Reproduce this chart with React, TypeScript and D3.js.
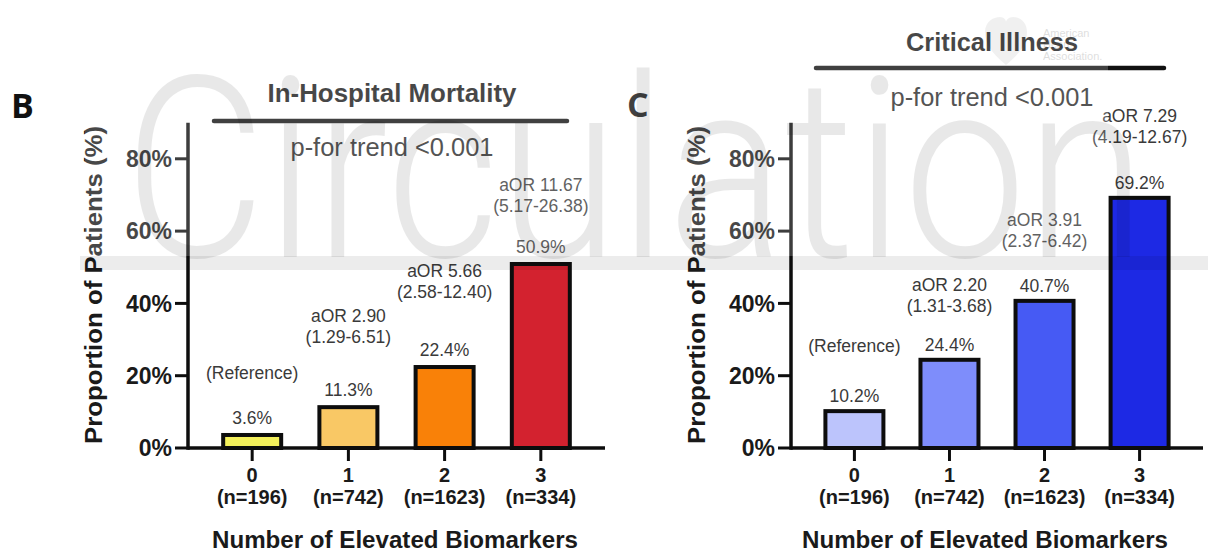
import React from "react";
import * as d3 from "d3";

// ---------- data ----------
const categories = ["0", "1", "2", "3"];
const sampleSizes = ["(n=196)", "(n=742)", "(n=1623)", "(n=334)"];
const yTicks = [0, 20, 40, 60, 80];

const mortalityValues = [3.6, 11.3, 22.4, 50.9];
const mortalityAOR = ["(Reference)", "aOR 2.90", "aOR 5.66", "aOR 11.67"];
const mortalityCI = ["", "(1.29-6.51)", "(2.58-12.40)", "(5.17-26.38)"];
const mortalityColors = ["#F3F05B", "#F9C865", "#F98108", "#D3222F"];

const criticalValues = [10.2, 24.4, 40.7, 69.2];
const criticalAOR = ["(Reference)", "aOR 2.20", "aOR 3.91", "aOR 7.29"];
const criticalCI = ["", "(1.31-3.68)", "(2.37-6.42)", "(4.19-12.67)"];
const criticalColors = ["#BCC4FC", "#7E8DFB", "#465AF4", "#1D29E4"];

const FONT = "'Liberation Sans', Arial, Helvetica, sans-serif";

const W = 1208;
const H = 552;
const BASE = 448;
const yScale = d3.scaleLinear().domain([0, 90]).range([BASE, BASE - 90 * 3.615]);

type PanelProps = {
  letter: string;
  letterX: number;
  letterY: number;
  title: string;
  titleW: number;
  titleY: number;
  centerX: number;
  lineX0: number;
  lineX1: number;
  lineY: number;
  pY: number;
  axisX: number;
  xEnd: number;
  xTitleX: number;
  values: number[];
  aor: string[];
  ci: string[];
  colors: string[];
  ciGaps: number[];
  pctGap: number;
};

function Panel(p: PanelProps) {
  const x = d3.scalePoint<string>().domain(categories).range([p.axisX, p.xEnd]).padding(0.667);
  const barW = 58;
  return (
    <g>
      <text x={p.letterX} y={p.letterY} fontFamily="'Open Sans', 'Noto Sans', sans-serif" fontWeight={700} fontSize={34} fill="#111">
        {p.letter}
      </text>
      <text x={p.centerX} y={p.titleY} textAnchor="middle" fontFamily={FONT} fontWeight={700} fontSize={25} fill="#1a1a1a" textLength={p.titleW} lengthAdjust="spacingAndGlyphs">
        {p.title}
      </text>
      <line x1={p.lineX0} x2={p.lineX1} y1={p.lineY} y2={p.lineY} stroke="#111" strokeWidth={4.5} strokeLinecap="round" />
      <text x={p.centerX} y={p.pY} textAnchor="middle" fontFamily={FONT} fontSize={25} fill="#2a2a2a" textLength={203} lengthAdjust="spacingAndGlyphs">
        p-for trend &lt;0.001
      </text>

      {/* bars */}
      {p.values.map((v, i) => {
        const cx = x(categories[i]) as number;
        return (
          <rect key={"b" + i} x={cx - barW / 2} y={yScale(v)} width={barW} height={BASE - yScale(v)} fill={p.colors[i]} stroke="#0d0d0d" strokeWidth={4} />
        );
      })}

      {/* annotations */}
      {p.values.map((v, i) => {
        const cx = x(categories[i]) as number;
        const pctY = yScale(v) - 2 - p.pctGap;
        const ciY = pctY - p.ciGaps[i];
        return (
          <g key={"a" + i} fontFamily={FONT} fontSize={17.5} fill="#3a3a3a" textAnchor="middle">
            <text x={cx} y={pctY} dy="0.36em">{v.toFixed(1)}%</text>
            {p.ci[i] ? (
              <>
                <text x={cx} y={ciY} dy="0.36em">{p.ci[i]}</text>
                <text x={cx} y={ciY - 21} dy="0.36em">{p.aor[i]}</text>
              </>
            ) : (
              <text x={cx} y={ciY} dy="0.36em">{p.aor[i]}</text>
            )}
          </g>
        );
      })}

      {/* axes */}
      <line x1={p.axisX} x2={p.xEnd} y1={BASE} y2={BASE} stroke="#0d0d0d" strokeWidth={3.5} />
      <line x1={p.axisX} x2={p.axisX} y1={yScale(90)} y2={BASE + 1.75} stroke="#0d0d0d" strokeWidth={3.5} />
      {yTicks.map((t) => (
        <g key={"yt" + t}>
          <line x1={p.axisX - 13} x2={p.axisX} y1={yScale(t)} y2={yScale(t)} stroke="#0d0d0d" strokeWidth={3} />
          <text x={p.axisX - 16} y={yScale(t)} dy="0.36em" textAnchor="end" fontFamily={FONT} fontWeight={700} fontSize={23} fill="#1a1a1a">
            {t}%
          </text>
        </g>
      ))}
      {categories.map((c, i) => {
        const cx = x(c) as number;
        return (
          <g key={"xt" + c}>
            <line x1={cx} x2={cx} y1={BASE} y2={BASE + 13} stroke="#0d0d0d" strokeWidth={3} />
            <text x={cx} y={482} textAnchor="middle" fontFamily={FONT} fontWeight={700} fontSize={20} fill="#1a1a1a">{c}</text>
            <text x={cx} y={504} textAnchor="middle" fontFamily={FONT} fontWeight={700} fontSize={20} fill="#1a1a1a">{sampleSizes[i]}</text>
          </g>
        );
      })}
      <text x={p.xTitleX} y={548} textAnchor="middle" fontFamily={FONT} fontWeight={700} fontSize={23} fill="#1a1a1a" textLength={366} lengthAdjust="spacingAndGlyphs">
        Number of Elevated Biomarkers
      </text>
      <text transform={`translate(${p.axisX - 95},285) rotate(-90)`} textAnchor="middle" dy="0.36em" fontFamily={FONT} fontWeight={700} fontSize={24} fill="#1a1a1a" textLength={318} lengthAdjust="spacingAndGlyphs">
        Proportion of Patients (%)
      </text>
    </g>
  );
}

export default function App() {
  return (
    <svg width={W} height={H} viewBox={`0 0 ${W} ${H}`} style={{ position: "absolute", left: 0, top: 0, background: "#fff" }}>
      <rect x={0} y={0} width={W} height={H} fill="#fff" />
      <Panel
        letter="B" letterX={11} letterY={118}
        title="In-Hospital Mortality" titleW={249} titleY={102} centerX={392}
        lineX0={214} lineX1={567} lineY={121} pY={156}
        axisX={188} xEnd={605} xTitleX={395}
        values={mortalityValues} aor={mortalityAOR} ci={mortalityCI} colors={mortalityColors}
        ciGaps={[45, 53, 58, 41]} pctGap={15}
      />
      <Panel
        letter="C" letterX={627} letterY={117}
        title="Critical Illness" titleW={172} titleY={51} centerX={992}
        lineX0={816} lineX1={1164} lineY={68} pY={106}
        axisX={791} xEnd={1203} xTitleX={985}
        values={criticalValues} aor={criticalAOR} ci={criticalCI} colors={criticalColors}
        ciGaps={[50, 39, 45, 46]} pctGap={13}
      />

      {/* watermark */}
      <rect x={85} y={0} width={1108 - 85} height={256} fill="#fff" opacity={0.2} />
      <rect x={80} y={256} width={W - 80} height={14} fill="#000" opacity={0.075} />
      <text x={124} y={257} fontFamily="Roboto, 'Liberation Sans', sans-serif" fontWeight={300} fontSize={252} fill="#000" opacity={0.085} textLength={1022} lengthAdjust="spacingAndGlyphs">
        Circulation
      </text>
      <path d="M1006,65 C990,52 985,42 985,32 C985,22 993,17 1000,17 C1004,17 1006,20 1006,22 C1006,20 1009,17 1013,17 C1021,17 1027,23 1027,32 C1027,42 1022,52 1006,65 Z" fill="#000" opacity={0.06} />
      <g fontFamily="'Liberation Sans', sans-serif" fontSize={11} fill="#000" opacity={0.13}>
        <text x={1043} y={37}>American</text>
        <text x={1043} y={48}>Heart</text>
        <text x={1043} y={60}>Association.</text>
      </g>
    </svg>
  );
}
